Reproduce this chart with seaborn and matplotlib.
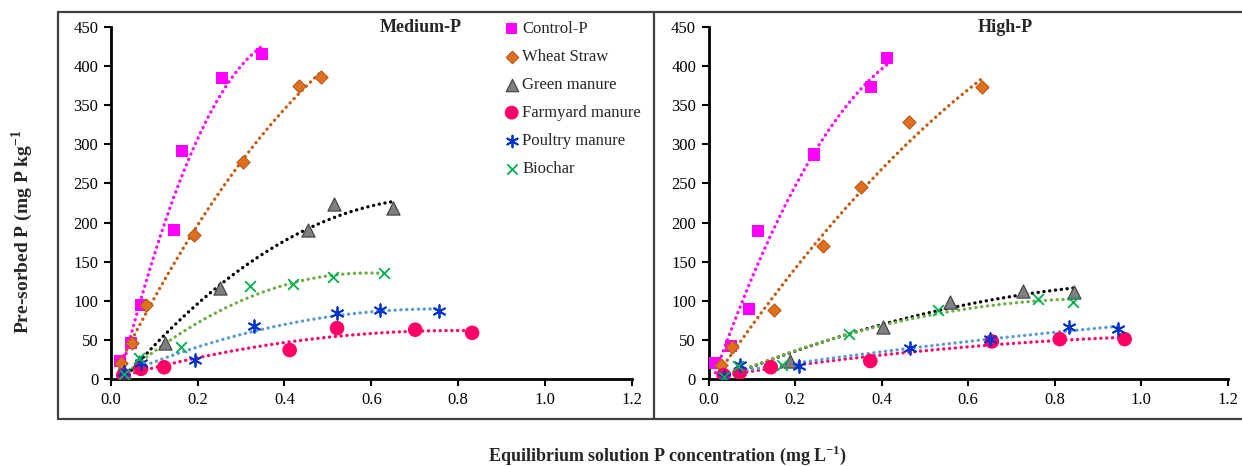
import numpy as np
import pandas as pd
import matplotlib
matplotlib.use("Agg")
import matplotlib.pyplot as plt
from matplotlib.lines import Line2D
import seaborn as sns

# ---------------- data ----------------
series_names = ["Control-P", "Wheat Straw", "Green manure", "Farmyard manure",
                "Poultry manure", "Biochar"]

# Medium-P panel
med_control_x = [0.022, 0.047, 0.070, 0.145, 0.164, 0.256, 0.349]
med_control_y = [23, 46, 95, 190, 291, 385, 416]
med_wheat_x = [0.024, 0.048, 0.082, 0.191, 0.304, 0.433, 0.483]
med_wheat_y = [21, 46, 95, 184, 277, 374, 386]
med_green_x = [0.030, 0.065, 0.126, 0.252, 0.454, 0.515, 0.650]
med_green_y = [9, 22, 46, 116, 190, 224, 218]
med_farm_x = [0.029, 0.070, 0.123, 0.412, 0.521, 0.701, 0.832]
med_farm_y = [5, 13, 15, 37, 65, 63, 59]
med_poultry_x = [0.030, 0.070, 0.195, 0.329, 0.521, 0.620, 0.755]
med_poultry_y = [9, 20, 24, 68, 84, 88, 87]
med_biochar_x = [0.030, 0.064, 0.162, 0.321, 0.419, 0.511, 0.629]
med_biochar_y = [6, 27, 41, 119, 121, 130, 135]

# High-P panel
high_control_x = [0.016, 0.051, 0.093, 0.115, 0.245, 0.375, 0.412]
high_control_y = [20, 42, 90, 189, 287, 373, 410]
high_wheat_x = [0.028, 0.054, 0.152, 0.265, 0.353, 0.463, 0.633]
high_wheat_y = [18, 41, 88, 170, 245, 328, 373]
high_green_x = [0.035, 0.070, 0.189, 0.403, 0.559, 0.726, 0.844]
high_green_y = [4, 14, 23, 66, 99, 112, 111]
high_farm_x = [0.035, 0.072, 0.144, 0.374, 0.655, 0.812, 0.962]
high_farm_y = [5, 8, 15, 23, 48, 51, 51]
high_poultry_x = [0.035, 0.072, 0.209, 0.465, 0.650, 0.833, 0.946]
high_poultry_y = [3, 18, 16, 39, 51, 66, 64]
high_biochar_x = [0.035, 0.068, 0.170, 0.325, 0.530, 0.761, 0.842]
high_biochar_y = [2, 17, 18, 58, 88, 102, 99]

x_ticks = [0.0, 0.2, 0.4, 0.6, 0.8, 1.0, 1.2]
y_ticks = [0, 50, 100, 150, 200, 250, 300, 350, 400, 450]
panel_titles = ["Medium-P", "High-P"]

# ---------------- style ----------------
sns.set_theme(style="ticks")
plt.rcParams["font.family"] = ["Liberation Serif", "DejaVu Serif"]
plt.rcParams["mathtext.fontset"] = "custom"
plt.rcParams["mathtext.rm"] = "Liberation Serif"
plt.rcParams["mathtext.bf"] = "Liberation Serif:bold"

marker_color = ["#FF00FF", "#E07020", "#7F7F7F", "#FF0066", "#0033CC", "#00B050"]
edge_color = ["none", "#B85A14", "#404040", "none", None, None]
line_color = ["#FF00FF", "#C55A11", "#000000", "#FF0066", "#5B9BD5", "#70AD47"]
markers = ["s", "D", "^", "o", (6, 2, 0), "x"]
sizes = [75, 45, 90, 110, 80, 60]

W, H = 1242, 466
fig = plt.figure(figsize=(W / 100, H / 100), dpi=100)

def fx(px):
    return px / W

def fy(py):
    return 1 - py / H

ax_left = fig.add_axes([fx(110.7), fy(379), fx(632) - fx(110.7), fy(27) - fy(379)])
ax_right = fig.add_axes([fx(708.5), fy(379), fx(1227.6) - fx(708.5), fy(27) - fy(379)])

panels = [
    (ax_left, [(med_control_x, med_control_y), (med_wheat_x, med_wheat_y),
               (med_green_x, med_green_y), (med_farm_x, med_farm_y),
               (med_poultry_x, med_poultry_y), (med_biochar_x, med_biochar_y)]),
    (ax_right, [(high_control_x, high_control_y), (high_wheat_x, high_wheat_y),
                (high_green_x, high_green_y), (high_farm_x, high_farm_y),
                (high_poultry_x, high_poultry_y), (high_biochar_x, high_biochar_y)]),
]

for (ax, data), title in zip(panels, panel_titles):
    for i, (xs, ys) in enumerate(data):
        df = pd.DataFrame({"x": xs, "y": ys})
        sns.regplot(data=df, x="x", y="y", order=2, ci=None, scatter=False,
                    truncate=True, ax=ax,
                    line_kws=dict(color=line_color[i], lw=2.4,
                                  ls=(0, (0.05, 1.7)), dash_capstyle="round",
                                  zorder=2))
    for i, (xs, ys) in enumerate(data):
        df = pd.DataFrame({"x": xs, "y": ys})
        kw = dict(marker=markers[i], s=sizes[i], color=marker_color[i],
                  label=series_names[i], ax=ax, zorder=3)
        if edge_color[i] is not None:
            kw["edgecolor"] = edge_color[i]
            kw["linewidth"] = 0.8 if edge_color[i] != "none" else 0
        else:
            kw["linewidth"] = 1.3
        sns.scatterplot(data=df, x="x", y="y", **kw)
    ax.set_xlim(0, 1.2)
    ax.set_ylim(0, 450)
    ax.set_xticks(x_ticks)
    ax.set_xticklabels([f"{t:.1f}" for t in x_ticks])
    ax.set_yticks(y_ticks)
    ax.set_xlabel("")
    ax.set_ylabel("")
    ax.tick_params(axis="both", direction="out", length=5, width=1.5,
                   labelsize=12, colors="black", pad=4)
    for s in ["left", "bottom"]:
        ax.spines[s].set_linewidth(2)
        ax.spines[s].set_color("black")
    sns.despine(ax=ax)
    ax.patch.set_alpha(0)
    if ax.get_legend():
        ax.get_legend().remove()

fig.text(fx(421), fy(28), panel_titles[0], ha="center", va="center",
         fontsize=13, fontweight="bold")
fig.text(fx(1005), fy(28), panel_titles[1], ha="center", va="center",
         fontsize=13, fontweight="bold")

handles, labels = ax_left.get_legend_handles_labels()
fig.legend(handles, labels, loc="upper left",
           bbox_to_anchor=(fx(505), fy(21)), frameon=False, fontsize=12,
           handlelength=0.8, handletextpad=0.25, labelspacing=0.72,
           borderaxespad=0, borderpad=0, markerscale=0.95)

fig.text(fx(22), fy(232), "Pre-sorbed P (mg P kg$^{\\mathbf{-1}}$",
         rotation=90, ha="center", va="center", fontsize=14, fontweight="bold")
fig.text(fx(667), fy(455), "Equilibrium solution P concentration (mg L$^{\\mathbf{-1}}$)",
         ha="center", va="center", fontsize=13, fontweight="bold")

# outer frame lines
frame_kw = dict(color="#404040", lw=1.6, transform=fig.transFigure)
fig.add_artist(Line2D([fx(57.5), fx(57.5)], [fy(12), fy(419.3)], **frame_kw))
fig.add_artist(Line2D([fx(57.5), 1.0], [fy(12), fy(12)], **frame_kw))
fig.add_artist(Line2D([fx(57.5), 1.0], [fy(419.3), fy(419.3)], **frame_kw))
fig.add_artist(Line2D([fx(654.3), fx(654.3)], [fy(12), fy(419.3)], **frame_kw))

fig.savefig("out.png", dpi=100)
